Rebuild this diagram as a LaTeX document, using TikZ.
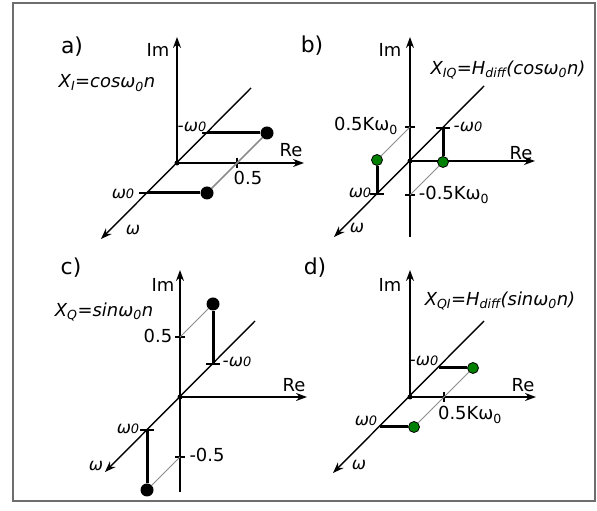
\documentclass[tikz,border=0pt]{standalone}
\usepackage{fontspec}
\setmainfont{DejaVu Sans}
\usetikzlibrary{arrows.meta, positioning}
\definecolor{fgreen}{HTML}{008000}
\definecolor{fgray}{HTML}{8C8C8C}
\definecolor{fframe}{HTML}{6E6E6E}
\newcommand{\wnull}{ω{\fontsize{13}{13}\selectfont 0}}
\tikzset{
  axisarr/.style={line width=1.4bp, -{Stealth[length=11bp, width=8bp]}},
  axisln/.style={line width=1.4bp},
  stem/.style={line width=3bp},
  projln/.style={line width=1.5bp, fgray},
  tickln/.style={line width=1.4bp},
  bdot/.style={circle, fill=black, inner sep=0pt, minimum size=13bp},
  gdot/.style={circle, draw=black, fill=fgreen, line width=0.8bp,
               inner sep=0pt, minimum size=11bp},
  odot/.style={circle, fill=black, inner sep=0pt, minimum size=5bp},
  lbl/.style={font=\fontsize{18}{21}\selectfont, inner sep=0pt},
  wlbl/.style={font=\fontsize{17}{20}\selectfont\itshape, inner sep=0pt},
  panellbl/.style={font=\fontsize{22}{25}\selectfont, inner sep=0pt},
  formula/.style={font=\fontsize{18}{21}\selectfont\itshape, inner sep=0pt},
  framebox/.style={draw=fframe, line width=1.5bp},
}
\begin{document}
\begin{tikzpicture}[x=1bp, y=1bp]

  \useasboundingbox (0,0) rectangle (597,511);
  \draw[framebox] (13,10) rectangle (595,508);

  % Panel a: X_I = cos
  \begin{scope}[shift={(177,348)}]
    \coordinate (aO) at (0,0);
    \coordinate (aIm) at (0,126);
    \coordinate (aRe) at (127,0);
    \coordinate (aWt) at (74,75);
    \coordinate (aWb) at (-76,-76);
    \coordinate (aW1) at (-30,-30);
    \coordinate (aW2) at (30,30);
    \draw[axisarr] (aO) -- (aIm);
    \draw[axisarr] (aO) -- (aRe);
    \draw[axisarr] (aWt) -- (aWb);
    \draw[tickln] (60,-5) -- (60,5);
    \draw[tickln] (-38,-30) -- (-30,-30);
    \draw[tickln] (25,30) -- (30,30);
    \node[bdot] (aP1) at (30,-30) {};
    \node[bdot] (aP2) at (90,30) {};
    \draw[projln] (aP1) -- (aP2);
    \draw[stem] (aW1) -- (aP1);
    \draw[stem] (aW2) -- (aP2);
    \node[odot] (aOd) at (aO) {};
    % labels
    \node[panellbl] (aTag) at (-105,116) {a)};
    \node[lbl] (aImL) at (-19,113) {Im};
    \node[lbl] (aReL) at (114,13) {Re};
    \node[lbl] (aHalf) at (71,-15) {0.5};
    \node[wlbl] (aWL) at (-44,-67) {ω};
    \node[wlbl] (aW2L) at (15,36) {-\wnull};
    \node[wlbl] (aW1L) at (-54,-31) {\wnull};
    \node[formula] (aEq) at (-70,80) {X\textsubscript{I}=cosω\textsubscript{0}n};
  \end{scope}

  % Panel b: X_IQ = H_diff(cos)
  \begin{scope}[shift={(410,350)}]
    \coordinate (bO) at (0,0);
    \coordinate (bIm) at (0,124);
    \coordinate (bImb) at (0,-76);
    \coordinate (bRe) at (125,0);
    \coordinate (bWt) at (74,75);
    \coordinate (bWb) at (-76,-76);
    \coordinate (bW1) at (-33,-33);
    \coordinate (bW2) at (33,33);
    \coordinate (bK1) at (0,34);
    \coordinate (bK2) at (0,-34);
    \draw[axisln] (bImb) -- (bO);
    \draw[axisarr] (bO) -- (bIm);
    \draw[axisarr] (bO) -- (bRe);
    \draw[axisarr] (bWt) -- (bWb);
    \draw[tickln] (-5,34) -- (5,34);
    \draw[tickln] (-5,-34) -- (5,-34);
    \draw[tickln] (-40,-33) -- (-26,-33);
    \draw[tickln] (26,33) -- (40,33);
    \node[gdot] (bG1) at (-33,1) {};
    \node[gdot] (bG2) at (33,-1) {};
    \draw[projln, line width=1bp] (bG1) -- (bK1);
    \draw[projln, line width=1bp] (bG2) -- (bK2);
    \draw[stem] (bW1) -- (bG1);
    \draw[stem] (bW2) -- (bG2);
    \node[odot] (bOd) at (bO) {};
    % labels
    \node[panellbl] (bTag) at (-98,115) {b)};
    \node[lbl] (bImL) at (-20,111) {Im};
    \node[lbl] (bReL) at (111,8) {Re};
    \node[lbl] (bK1L) at (-44,35) {0.5Kω\textsubscript{0}};
    \node[lbl] (bK2L) at (44,-34) {-0.5Kω\textsubscript{0}};
    \node[wlbl] (bWL) at (-53,-67) {ω};
    \node[wlbl] (bW2L) at (58,34) {-\wnull};
    \node[wlbl] (bW1L) at (-50,-32) {\wnull};
    \node[formula] (bEq) at (98,91) {X\textsubscript{IQ}=H\textsubscript{diff}(cosω\textsubscript{0}n)};
  \end{scope}

  % Panel c: X_Q = sin
  \begin{scope}[shift={(180,114)}]
    \coordinate (cO) at (0,0);
    \coordinate (cIm) at (0,127);
    \coordinate (cImb) at (0,-95);
    \coordinate (cRe) at (127,0);
    \coordinate (cWt) at (75,76);
    \coordinate (cWb) at (-75,-75);
    \coordinate (cW1) at (-33,-33);
    \coordinate (cW2) at (33,33);
    \coordinate (cH1) at (0,60);
    \coordinate (cH2) at (0,-60);
    \draw[axisln] (cImb) -- (cO);
    \draw[axisarr] (cO) -- (cIm);
    \draw[axisarr] (cO) -- (cRe);
    \draw[axisarr] (cWt) -- (cWb);
    \draw[tickln] (-5,60) -- (5,60);
    \draw[tickln] (-5,-60) -- (5,-60);
    \draw[tickln] (-40,-33) -- (-26,-33);
    \draw[tickln] (26,33) -- (40,33);
    \node[bdot] (cP1) at (-33,-93) {};
    \node[bdot] (cP2) at (33,93) {};
    \draw[projln, line width=1bp] (cP1) -- (cH2);
    \draw[projln, line width=1bp] (cP2) -- (cH1);
    \draw[stem] (cW1) -- (cP1);
    \draw[stem] (cW2) -- (cP2);
    \node[odot] (cOd) at (cO) {};
    % labels
    \node[panellbl] (cTag) at (-109,129) {c)};
    \node[lbl] (cImL) at (-17,112) {Im};
    \node[lbl] (cReL) at (114,12) {Re};
    \node[lbl] (cH1L) at (-22,61) {0.5};
    \node[lbl] (cH2L) at (27,-58) {-0.5};
    \node[wlbl] (cWL) at (-84,-69) {ω};
    \node[wlbl] (cW2L) at (57,35) {-\wnull};
    \node[wlbl] (cW1L) at (-52,-32) {\wnull};
    \node[formula] (cEq) at (-76,85) {X\textsubscript{Q}=sinω\textsubscript{0}n};
  \end{scope}

  % Panel d: X_QI = H_diff(sin)
  \begin{scope}[shift={(410,114)}]
    \coordinate (dO) at (0,0);
    \coordinate (dIm) at (0,127);
    \coordinate (dRe) at (126,0);
    \coordinate (dWt) at (74,76);
    \coordinate (dWb) at (-77,-76);
    \coordinate (dW1) at (-30,-30);
    \coordinate (dW2) at (29,29);
    \draw[axisarr] (dO) -- (dIm);
    \draw[axisarr] (dO) -- (dRe);
    \draw[axisarr] (dWt) -- (dWb);
    \draw[tickln] (34,-5) -- (34,5);
    \node[gdot] (dG1) at (4,-30) {};
    \node[gdot] (dG2) at (63,29) {};
    \draw[projln, line width=1bp] (dG1) -- (dG2);
    \draw[stem] (dW1) -- (dG1);
    \draw[stem] (dW2) -- (dG2);
    \node[odot] (dOd) at (dO) {};
    % labels
    \node[panellbl] (dTag) at (-95,129) {d)};
    \node[lbl] (dImL) at (-20,112) {Im};
    \node[lbl] (dReL) at (113,12) {Re};
    \node[lbl] (dKL) at (60,-18) {0.5Kω\textsubscript{0}};
    \node[wlbl] (dWL) at (-51,-68) {ω};
    \node[wlbl] (dW2L) at (14,36) {-\wnull};
    \node[wlbl] (dW1L) at (-44,-24) {\wnull};
    \node[formula] (dEq) at (90,96) {X\textsubscript{QI}=H\textsubscript{diff}(sinω\textsubscript{0}n)};
  \end{scope}

\end{tikzpicture}
\end{document}
